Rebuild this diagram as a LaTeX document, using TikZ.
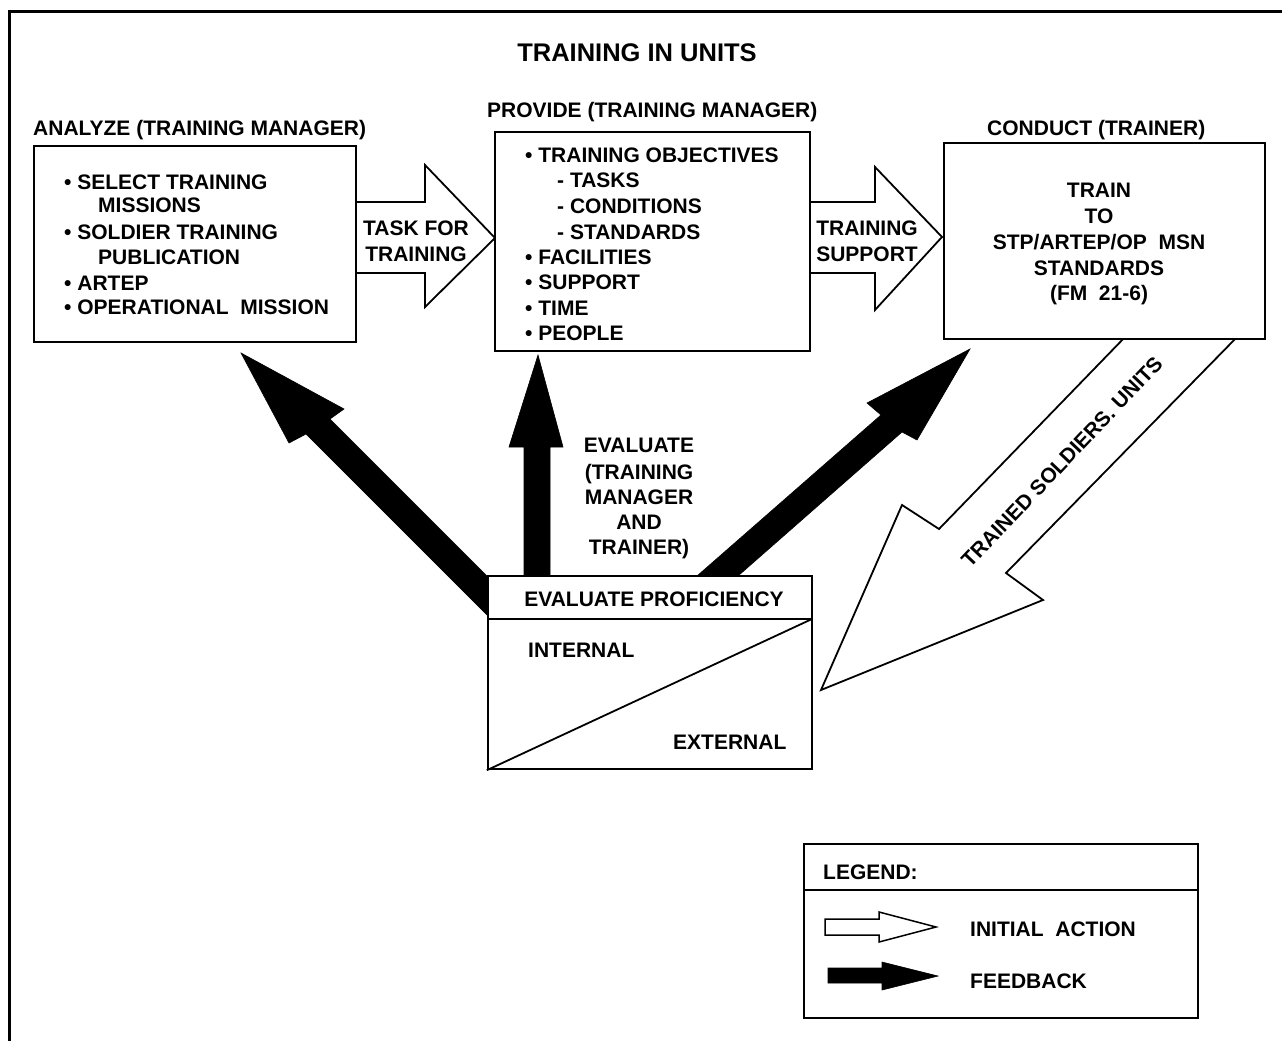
\documentclass[tikz,border=0pt]{standalone}
\usepackage{fontspec}
\setmainfont{Liberation Sans}
\begin{document}
\begin{tikzpicture}[x=1pt,y=-1pt,
  box/.style={draw, line width=2.4pt, fill=white, inner sep=0pt},
  lbl/.style={inner sep=0pt, font=\fontsize{21}{25}\selectfont\bfseries},
  lw/.style={lbl, anchor=base west},
  lc/.style={lbl, anchor=base},
  openarrow/.style={draw, line width=1.8pt, fill=white, line join=miter},
  fbarrow/.style={draw=black, fill=black, line width=0.6pt, line join=miter}]
\useasboundingbox (0,0) rectangle (1282,1041);
\fill[white] (0,0) rectangle (1282,1041);

% outer frame (top and left edges)
\draw[line width=3pt] (1282,12) -- (9,12) -- (9,1041);

% title
\node[lbl, anchor=base, font=\fontsize{25.5}{30}\selectfont\bfseries] (title) at (637,62) {TRAINING IN UNITS};

% feedback arrows (black), their tails hidden under the evaluation box
\path[fbarrow] (241,353) -- (344,409) -- (330,419) -- (520,609) -- (500,628) -- (306,434) -- (289,443) -- cycle;
\path[fbarrow] (538,355) -- (563,447) -- (550,447) -- (550,590) -- (524,590) -- (524,447) -- (509,447) -- cycle;
\path[fbarrow] (970,349) -- (867,403) -- (881,415) -- (681,590) -- (722,590) -- (902,432) -- (917,440) -- cycle;

% trained soldiers / units (open arrow)
\path[openarrow] (1127,335) -- (939,529) -- (902,505) -- (821,690) -- (1043,600) -- (1006,573) -- (1239,335);
\node[lbl, rotate=46.5] (trained) at (1062,462) {TRAINED SOLDIERS. UNITS};

% initial action arrows between the upper boxes
\path[openarrow] (356,202) -- (425,202) -- (425,165) -- (495,238) -- (425,307) -- (425,273) -- (356,273);
\path[openarrow] (810,202) -- (875,202) -- (875,167) -- (942,237) -- (875,310) -- (875,273) -- (810,273);

% boxes
\node[box, minimum width=322pt, minimum height=196pt] (analyze) at (195,244) {};
\node[box, minimum width=315pt, minimum height=219pt] (provide) at (652.5,241.5) {};
\node[box, minimum width=321pt, minimum height=196pt] (conduct) at (1104.5,241) {};
\node[box, minimum width=324pt, minimum height=193pt] (evalbox) at (650,672.5) {};
\node[box, minimum width=394pt, minimum height=174pt] (legend) at (1001,931) {};

% evaluation box: header rule and diagonal split
\draw[line width=2.4pt] (488,619) -- (812,619);
\draw[line width=1.8pt] (evalbox.south west) -- (812,619);

% legend header rule
\draw[line width=2pt] (804,890) -- (1198,890);

% headings
\node[lw] (hanalyze) at (33,135.5) {ANALYZE (TRAINING MANAGER)};
\node[lw] (hprovide) at (487,117.5) {PROVIDE (TRAINING MANAGER)};
\node[lw] (hconduct) at (987,135.5) {CONDUCT (TRAINER)};

% analyze contents
\node[lw] (a1) at (64,189.5) {\textbullet\ SELECT TRAINING};
\node[lw] (a2) at (98,212.5) {MISSIONS};
\node[lw] (a3) at (64,239.5) {\textbullet\ SOLDIER TRAINING};
\node[lw] (a4) at (98,264.5) {PUBLICATION};
\node[lw] (a5) at (64,290.5) {\textbullet\ ARTEP};
\node[lw] (a6) at (64,314.5) {\textbullet\ OPERATIONAL\ \ MISSION};

% provide contents
\node[lw] (p1) at (525,162.5) {\textbullet\ TRAINING OBJECTIVES};
\node[lw] (p2) at (557,187.5) {- TASKS};
\node[lw] (p3) at (557,213.5) {- CONDITIONS};
\node[lw] (p4) at (557,239.5) {- STANDARDS};
\node[lw] (p5) at (525,264.5) {\textbullet\ FACILITIES};
\node[lw] (p6) at (525,289.5) {\textbullet\ SUPPORT};
\node[lw] (p7) at (525,315.5) {\textbullet\ TIME};
\node[lw] (p8) at (525,340.5) {\textbullet\ PEOPLE};

% conduct contents
\node[lc] (c1) at (1099,197.5) {TRAIN};
\node[lc] (c2) at (1099,223.5) {TO};
\node[lc] (c3) at (1099,249.5) {STP/ARTEP/OP\ \ MSN};
\node[lc] (c4) at (1099,275.5) {STANDARDS};
\node[lc] (c5) at (1099,300.5) {(FM\ \ 21-6)};

% arrow labels
\node[lc] (t1) at (416,235.5) {TASK FOR};
\node[lc] (t2) at (416,261) {TRAINING};
\node[lc] (s1) at (867,235.5) {TRAINING};
\node[lc] (s2) at (867,261.5) {SUPPORT};

% evaluate label
\node[lc] (e1) at (639,452.5) {EVALUATE};
\node[lc] (e2) at (639,479) {(TRAINING};
\node[lc] (e3) at (639,504.5) {MANAGER};
\node[lc] (e4) at (639,529.5) {AND};
\node[lc] (e5) at (639,554.5) {TRAINER)};

% evaluation box texts
\node[lc] (ep) at (654,606.5) {EVALUATE PROFICIENCY};
\node[lw] (ein) at (528,657.5) {INTERNAL};
\node[lw] (eex) at (673,749.5) {EXTERNAL};

% legend
\node[lw] (lg) at (823,879) {LEGEND:};
\path[openarrow, line width=1.5pt] (825,919) -- (879,919) -- (879,912) -- (936,927) -- (879,942) -- (879,935) -- (825,935) -- cycle;
\path[fbarrow] (828,968) -- (882,968) -- (882,962) -- (938,976) -- (882,990) -- (882,983) -- (828,983) -- cycle;
\node[lw] (li) at (970,936.5) {INITIAL\ \ ACTION};
\node[lw] (lf) at (970,988) {FEEDBACK};
\end{tikzpicture}
\end{document}
